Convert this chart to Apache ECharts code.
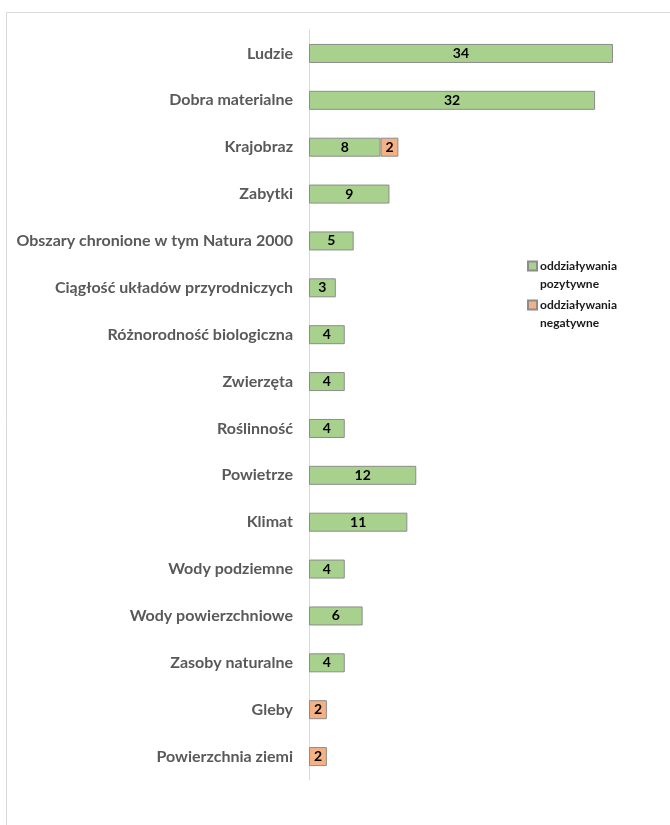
<!DOCTYPE html>
<html><head><meta charset="utf-8">
<script src="https://cdn.jsdelivr.net/npm/echarts@6/dist/echarts.min.js"></script>
<style>html,body{margin:0;padding:0;background:#fff}#c{width:670px;height:825px}</style>
</head><body><div id="c"></div>
<script>
const categories = ["Ludzie","Dobra materialne","Krajobraz","Zabytki","Obszary chronione w tym Natura 2000","Ciągłość układów przyrodniczych","Różnorodność biologiczna","Zwierzęta","Roślinność","Powietrze","Klimat","Wody podziemne","Wody powierzchniowe","Zasoby naturalne","Gleby","Powierzchnia ziemi"];
const positive = [34,32,8,9,5,3,4,4,4,12,11,4,6,4,null,null];
const negative = [null,null,2,null,null,null,null,null,null,null,null,null,null,null,2,2];
const seriesNames = ["oddziaływania\npozytywne","oddziaływania\nnegatywne"];

const chart = echarts.init(document.getElementById('c'), null, {renderer:'canvas'});
const labelStyle = {show:true, position:'inside', color:'#000', fontFamily:'Lato', fontWeight:'bold', fontSize:14};
chart.setOption({
  animation:false,
  graphic:[{type:'rect', shape:{x:6.5,y:12.5,width:700,height:900}, style:{fill:'none', stroke:'#d9d9d9', lineWidth:1}, silent:true}],
  legend:{orient:'vertical', left:522, top:252, itemWidth:9, itemHeight:27, itemGap:3,
    icon:'path://M0,27M0,0H9V9H0Z',
    textStyle:{fontFamily:'Lato', fontWeight:'bold', fontSize:12, color:'#1a1a1a', lineHeight:18, padding:[0,0,0,-2]},
    data:seriesNames},
  grid:{left:309, top:30, width:357.6, height:750},
  xAxis:{type:'value', min:0, max:40, show:false},
  yAxis:{type:'category', data:categories, inverse:true,
    axisTick:{show:false}, axisLine:{lineStyle:{color:'#d9d9d9'}},
    axisLabel:{margin:16, fontFamily:'Lato', fontWeight:'bold', fontSize:16, color:'#595959'}},
  series:[
    {name:seriesNames[0], type:'bar', stack:'a', data:positive, barWidth:19,
     itemStyle:{color:'#a9d18e', borderColor:'#8c8c8c', borderWidth:1}, label:labelStyle},
    {name:seriesNames[1], type:'bar', stack:'a', data:negative, barWidth:19,
     itemStyle:{color:'#f4b183', borderColor:'#8c8c8c', borderWidth:1}, label:labelStyle}
  ]
});
</script></body></html>
